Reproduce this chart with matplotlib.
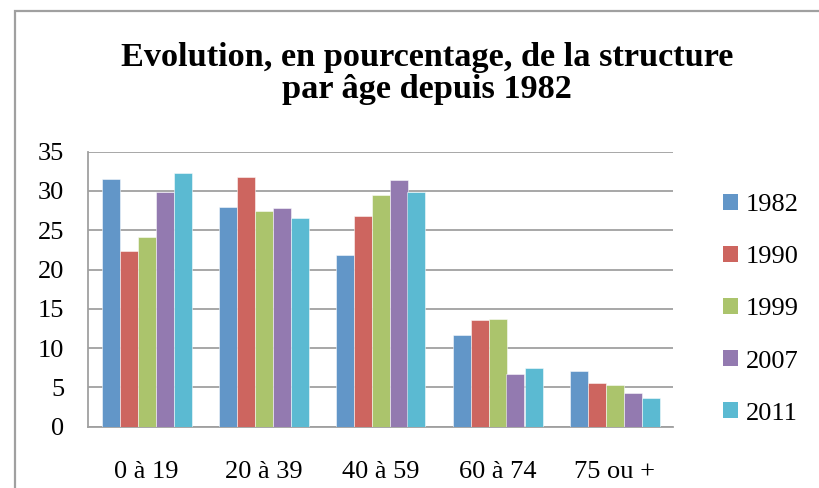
import numpy as np
import matplotlib
matplotlib.use("Agg")
import matplotlib.pyplot as plt
from matplotlib.patches import Rectangle, Patch

# Age groups and yearly shares (%)
groups = ["0 à 19", "20 à 39", "40 à 59", "60 à 74", "75 ou +"]
years = ["1982", "1990", "1999", "2007", "2011"]
v1982 = [31.5, 27.9, 21.8, 11.7, 7.1]
v1990 = [22.3, 31.8, 26.8, 13.6, 5.5]
v1999 = [24.1, 27.4, 29.5, 13.7, 5.3]
v2007 = [29.9, 27.8, 31.4, 6.7, 4.3]
v2011 = [32.3, 26.5, 29.9, 7.5, 3.6]
series = [v1982, v1990, v1999, v2007, v2011]
colors = ["#6296C8", "#CD655F", "#ABC46C", "#937AB0", "#5BBAD2"]

plt.rcParams["font.family"] = ["Liberation Serif", "DejaVu Serif"]
grey = "#A0A0A0"

fig = plt.figure(figsize=(8.19, 4.88), dpi=100)
ax = fig.add_axes([88/819, 1-426.7/488, (673-88)/819, (426.7-151.7)/488])

x = np.arange(len(groups))
w = 1/6.5
for i, vals in enumerate(series):
    ax.bar(x + (i - 2)*w, vals, width=w, color=colors[i],
           edgecolor=(1, 1, 1, 0.6), linewidth=0.6, zorder=3)

ax.set_xlim(-0.5, len(groups) - 0.5)
ax.set_ylim(0, 35)
ax.set_yticks(range(0, 36, 5))
ax.set_xticks(x)
ax.set_xticklabels(groups)
ax.tick_params(axis="both", labelsize=19, length=0)
ax.tick_params(axis="y", pad=17)
ax.tick_params(axis="x", pad=25)

ax.yaxis.grid(True, color=grey, linewidth=1.3, zorder=0)
ax.set_axisbelow(True)
for s in ["top", "right"]:
    ax.spines[s].set_visible(False)
for s in ["left", "bottom"]:
    ax.spines[s].set_color(grey)
    ax.spines[s].set_linewidth(1.3)

handles = [Patch(facecolor=c, edgecolor="none") for c in colors]
fig.legend(handles, years, loc="upper left",
           bbox_to_anchor=(723/819, 1-194/488), frameon=False,
           fontsize=19, handlelength=0.55, handleheight=0.55,
           handletextpad=0.3, labelspacing=1.13, borderpad=0, borderaxespad=0)

fig.text(427/819, 1-42/488,
         "Evolution, en pourcentage, de la structure\npar âge depuis 1982",
         ha="center", va="top", fontsize=24.7, fontweight="bold",
         linespacing=1.05)

# chart frame running off the right and bottom edges
fig.patches.append(Rectangle((15.5/819, -0.1), 1.2, 1.1 - 11/488,
                             transform=fig.transFigure, fill=False,
                             edgecolor=grey, linewidth=1.6))

fig.savefig("out.png", dpi=100)
